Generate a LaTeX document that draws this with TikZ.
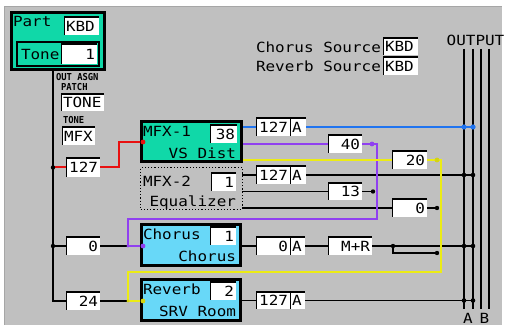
\documentclass[tikz,border=0pt]{standalone}
\usepackage{fontspec}
\newfontfamily\pix[FakeStretch=1.14]{DejaVu Sans Mono}
\newfontfamily\pixs[FakeStretch=0.92]{DejaVu Sans Mono}
\newcommand\fm{\pix\fontsize{14}{14}\selectfont}
\newcommand\fsm{\pixs\bfseries\fontsize{9.6}{9.6}\selectfont}
\definecolor{panel}{RGB}{192,192,192}
\definecolor{fxteal}{RGB}{16,216,168}
\definecolor{chblue}{RGB}{104,216,248}
\definecolor{lnblue}{RGB}{32,116,240}
\definecolor{lnpurple}{RGB}{144,64,240}
\definecolor{lnyellow}{RGB}{236,236,20}
\definecolor{lnred}{RGB}{232,16,16}
\pgfdeclarelayer{back}\pgfdeclarelayer{wires}\pgfsetlayers{back,wires,main}
\tikzset{
  sunk/.style={fill=white,inner xsep=2pt,inner ysep=0pt,outer sep=0pt,anchor=north west,font=\fm,text height=10.2pt,text depth=0pt,
    path picture={\draw[line width=2.6pt] (path picture bounding box.south west) -- (path picture bounding box.north west) -- (path picture bounding box.north east);}},
  lbl/.style={inner sep=0pt,outer sep=0pt,font=\fm,text height=10.2pt,text depth=0pt},
  slbl/.style={inner sep=0pt,outer sep=0pt,font=\fsm,text height=7pt,text depth=0pt,anchor=west},
  bigbox/.style={draw=black,anchor=north west,inner sep=0pt,outer sep=0pt},
  wire/.style={line width=1.7pt,draw=black},
  cwire/.style={line width=2pt,draw=#1},
  bus/.style={line width=1.9pt,draw=black},
}
\newcommand\sk[7]{\pgfmathsetmacro\skw{#4-4}\node[sunk,minimum height=#5pt,text width=\skw pt,align=#6] (#1) at (#2,#3) {#7};}
\begin{document}
\begin{tikzpicture}[x=1pt,y=-1pt]
\useasboundingbox (0,0) rectangle (506,328);
\begin{pgfonlayer}{back}
\fill[white] (0,0) rectangle (506,328);
\fill[panel] (4,6) rectangle (502,325);
\draw[line width=1pt,black!35] (4.5,325) -- (4.5,6.5) -- (502,6.5);
\end{pgfonlayer}

% ---- left: Part / Tone
\node[bigbox,fill=fxteal,line width=2.6pt,minimum width=93.4pt,minimum height=57.4pt] (part) at (11.3,12.3) {};
\node[bigbox,line width=2.2pt,minimum width=81.8pt,minimum height=23.8pt] (tone) at (17.1,42.1) {};
\node[lbl,anchor=west] (tPart) at (13,21.5) {Part};
\node[lbl,anchor=west] (tTone) at (21,54.5) {Tone};
\sk{kbd}{64}{17}{35}{18}{left}{KBD}
\sk{tone1}{61}{44}{36}{20}{right}{1}
\node[slbl] (tOut) at (56,77.5) {OUT ASGN};
\node[slbl] (tPatch) at (61,87.5) {PATCH};
\sk{patch}{61}{94}{43}{17}{left}{TONE}
\node[slbl] (tToneL) at (63,120) {TONE};
\sk{tonev}{62}{127}{33}{18}{left}{MFX}
\sk{v127}{66}{158}{34}{19}{right}{127}
\sk{b0l}{66}{237}{34}{18}{right}{0}
\sk{b24}{66}{292}{34}{18}{right}{24}

% ---- effect blocks
\node[bigbox,fill=fxteal,line width=3pt,minimum width=100pt,minimum height=40pt] (mfx1) at (141.5,121.5) {};
\node[lbl,anchor=west] (tMfx1) at (143,131) {MFX-1};
\node[lbl,anchor=east] (tVS) at (236,153) {VS Dist};
\sk{m38}{210}{125}{27}{18}{right}{38}

\node[bigbox,dotted,line width=1.2pt,minimum width=101.8pt,minimum height=41.8pt] (mfx2) at (140.6,167.6) {};
\node[lbl,anchor=west] (tMfx2) at (143,181) {MFX-2};
\node[lbl,anchor=east] (tEq) at (236,201) {Equalizer};
\sk{m2v}{211}{173}{25}{18}{right}{1}

\node[bigbox,fill=chblue,line width=2.6pt,minimum width=99.4pt,minimum height=41.4pt] (chorus) at (141.3,224.3) {};
\node[lbl,anchor=west] (tCh1) at (143,234) {Chorus};
\node[lbl,anchor=east] (tCh2) at (236,256) {Chorus};
\sk{chv}{210}{227}{26}{18}{right}{1}

\node[bigbox,fill=chblue,line width=2.6pt,minimum width=99.4pt,minimum height=41.4pt] (reverb) at (141.3,279.3) {};
\node[lbl,anchor=west] (tRv1) at (143,289) {Reverb};
\node[lbl,anchor=east] (tRv2) at (236,311) {SRV Room};
\sk{rvv}{210}{282}{26}{18}{right}{2}

% ---- right value boxes
\sk{b127a}{256}{118}{34}{18}{right}{127}
\sk{bAa}{290}{118}{16}{18}{left}{A}
\sk{b40}{328}{135}{34}{18}{right}{40}
\sk{b20}{392}{151}{35}{18}{right}{20}
\sk{b127b}{256}{166}{34}{18}{right}{127}
\sk{bAb}{290}{166}{16}{18}{left}{A}
\sk{b13}{328}{183}{34}{17}{right}{13}
\sk{b0r}{392}{199}{35}{18}{right}{0}
\sk{b0c}{256}{237}{34}{18}{right}{0}
\sk{bAc}{290}{237}{15}{18}{left}{A}
\sk{bMR}{328}{237}{44}{18}{right}{M+R}
\sk{b127c}{256}{292}{34}{17}{right}{127}
\sk{bAd}{290}{292}{15}{17}{left}{A}

% ---- sources
\node[lbl,anchor=west] (tCS) at (256,47) {Chorus Source};
\sk{csrc}{383}{38}{35}{17}{left}{KBD}
\node[lbl,anchor=west] (tRS) at (256,66) {Reverb Source};
\sk{rsrc}{383}{57}{35}{18}{left}{KBD}

% ---- output bus
\node[lbl] (tOutput) at (475.5,40.5) {OUTPUT};
\coordinate (oA) at (464,49);
\coordinate (oA2) at (473,49);
\coordinate (oB) at (481,49);
\coordinate (oB2) at (489,49);
\foreach \c in {oA,oA2,oB,oB2} \draw[bus] (\c) -- (\c |- 0,309);
\node[lbl] (tA) at (468,318) {A};
\node[lbl] (tB) at (484.5,318) {B};

% ---- junction coordinates
\coordinate (j1) at (53,167.5);
\coordinate (j2) at (53,246);
\coordinate (rk) at (119,142);
\coordinate (rin) at (143,142);
\coordinate (pv1) at (377,144);
\coordinate (pv2) at (377,219);
\coordinate (pv3) at (128,219);
\coordinate (pk) at (128,246);
\coordinate (pin) at (143,246);
\coordinate (yv1) at (441,160);
\coordinate (yv2) at (441,272);
\coordinate (yv3) at (128,272);
\coordinate (yk) at (128,301);
\coordinate (yin) at (143,301);
\coordinate (d40) at (372,144);
\coordinate (d20) at (437,160);
\coordinate (d13) at (373,191.5);
\coordinate (d0r) at (437,208);
\coordinate (jmr) at (393,246);
\coordinate (dmr) at (437,253);

\begin{pgfonlayer}{wires}
% black wires
\draw[wire] (tone.south -| j1) -- (j1 |- b24.west) -- (b24.west);
\draw[wire] (j2) -- (b0l.west);
\draw[wire] (b0l.east) -- (pk);
\draw[wire] (b24.east) -- (yk);
\draw[wire] (mfx2.east |- b127b.west) -- (b127b.west);
\draw[wire] (bAb.east) -- (oA2 |- bAb.east);
\draw[wire] (mfx2.east |- b13.west) -- (b13.west);
\draw[wire] (b13.east) -- (d13);
\draw[wire] (mfx2.east |- b0r.west) -- (b0r.west);
\draw[wire] (b0r.east) -- (d0r);
\draw[wire] (chorus.east |- b0c.west) -- (b0c.west);
\draw[wire] (bAc.east) -- (bMR.west);
\draw[wire] (bMR.east) -- (oA2 |- bMR.east);
\draw[wire] (jmr) |- (dmr);
\draw[wire] (reverb.east |- b127c.west) -- (b127c.west);
\draw[wire] (bAd.east) -- (oA2 |- bAd.east);
% coloured wires
\draw[cwire=lnred] (j1) -- (v127.west);
\draw[cwire=lnred] (v127.east) -| (rk) -- (rin);
\draw[cwire=lnblue] (mfx1.east |- b127a.west) -- (b127a.west);
\draw[cwire=lnblue] (bAa.east) -- (oA2 |- bAa.east);
\draw[cwire=lnpurple] (mfx1.east |- b40.west) -- (b40.west);
\draw[cwire=lnpurple] (b40.east) -- (pv1) -- (pv2) -- (pv3) -- (pk) -- (pin);
\draw[cwire=lnyellow] (mfx1.east |- b20.west) -- (b20.west);
\draw[cwire=lnyellow] (b20.east) -- (yv1) -- (yv2) -- (yv3) -- (yk) -- (yin);
\end{pgfonlayer}

% ---- dots
\foreach \p in {j1,j2,d13,d0r,jmr,dmr} \fill[black] (\p) circle (2.2pt);
\foreach \n in {b127b,bMR,bAd} {\fill[black] (oA |- \n.east) circle (2.3pt); \fill[black] (oA2 |- \n.east) circle (2.3pt);}
\fill[lnblue] (oA |- bAa.east) circle (2.6pt);
\fill[lnblue] (oA2 |- bAa.east) circle (2.6pt);
\fill[lnred] (rin) circle (2.4pt);
\fill[lnpurple] (d40) circle (2.4pt);
\fill[lnpurple] (pin) circle (2.4pt);
\fill[lnpurple] (pk) circle (1.6pt);
\fill[lnyellow!90!black] (d20) circle (2.4pt);
\fill[lnyellow!90!black] (yin) circle (2.4pt);
\fill[lnyellow!90!black] (yk) circle (1.6pt);
\end{tikzpicture}
\end{document}
